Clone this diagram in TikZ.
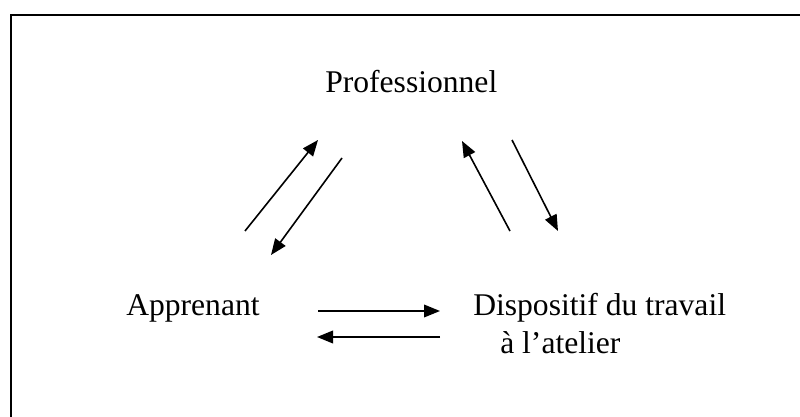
\documentclass[tikz,border=0pt]{standalone}
\usepackage{fontspec}
\setmainfont{Liberation Serif}
\usetikzlibrary{arrows.meta,positioning}

\begin{document}
\begin{tikzpicture}[
    x=0.75pt, y=-0.75pt,
    >={Triangle[length=12pt,width=9.5pt]},
    pole/.style={inner sep=0pt, align=left,
                 font=\fontsize{23.7}{28.5}\selectfont},
    fleche/.style={->, line width=1.2pt}
  ]
  \useasboundingbox (0,0) rectangle (800,417);
  \draw[line width=1.6pt] (800,15) -| (11,417);

  \node[pole, anchor=base west] (pro) at (325,93) {Professionnel};
  \node[pole, anchor=base west] (app) at (126,315) {Apprenant};
  \node[pole, anchor=base west] (disp) at (473,315) {Dispositif du travail};
  \node[pole, anchor=base west] (atelier) at (500,353) {à l’atelier};

  % extremites des fleches
  \coordinate (apA) at (245,231);
  \coordinate (apB) at (318,140);
  \coordinate (paA) at (342,158);
  \coordinate (paB) at (271,255);
  \coordinate (dpA) at (510,231);
  \coordinate (dpB) at (462,141);
  \coordinate (pdA) at (512,140);
  \coordinate (pdB) at (558,231);
  \coordinate (adA) at (318,311);
  \coordinate (adB) at (440,311);
  \coordinate (daA) at (440,337);
  \coordinate (daB) at (317,337);

  \draw[fleche] (apA) -- (apB);
  \draw[fleche] (paA) -- (paB);
  \draw[fleche] (dpA) -- (dpB);
  \draw[fleche] (pdA) -- (pdB);
  \draw[fleche] (adA) -- (adB);
  \draw[fleche] (daA) -- (daB);
\end{tikzpicture}
\end{document}
